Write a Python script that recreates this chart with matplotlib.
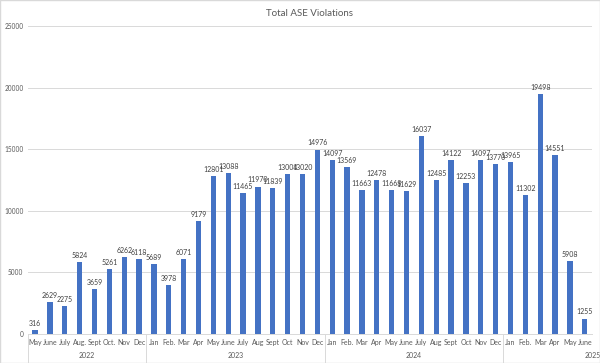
import matplotlib
matplotlib.use("Agg")
import matplotlib.pyplot as plt

months = ["May", "June", "July", "Aug.", "Sept", "Oct.", "Nov", "Dec",
          "Jan", "Feb.", "Mar", "Apr", "May", "June", "July", "Aug", "Sept", "Oct", "Nov", "Dec",
          "Jan", "Feb.", "Mar", "Apr", "May", "June", "July", "Aug", "Sept", "Oct", "Nov", "Dec",
          "Jan", "Feb.", "Mar", "Apr", "May", "June"]
violations = [316, 2629, 2275, 5824, 3659, 5261, 6262, 6118,
              5689, 3978, 6071, 9179, 12801, 13088, 11465, 11970, 11839, 13004, 13020, 14976,
              14097, 13569, 11663, 12478, 11668, 11629, 16037, 12485, 14122, 12253, 14097, 13770,
              13965, 11302, 19498, 14551, 5908, 1255]
years = ["2022", "2023", "2024", "2025"]
year_counts = [8, 12, 12, 6]

plt.rcParams['font.family'] = ['Lato', 'DejaVu Sans']
bar_color = "#4472C4"
text_color = "#595959"
grid_color = "#D9D9D9"

fig = plt.figure(figsize=(6, 3.63), dpi=100)
ax = fig.add_axes([0.046, 0.080, 0.941, 0.848])

x = list(range(len(violations)))
ax.bar(x, violations, width=0.36, color=bar_color, zorder=3)
for xi, v in zip(x, violations):
    ax.text(xi, v + 250, str(v), ha='center', va='bottom', fontsize=5, color="#404040")

ax.set_xlim(-0.5, len(violations) - 0.5)
ax.set_ylim(0, 25000)
ax.set_yticks(range(0, 25001, 5000))
ax.tick_params(axis='y', length=0, labelsize=4.7, labelcolor=text_color, pad=3)
ax.grid(axis='y', color=grid_color, linewidth=0.7, zorder=0)
for s in ['top', 'right', 'left']:
    ax.spines[s].set_visible(False)
ax.spines['bottom'].set_color(grid_color)
ax.spines['bottom'].set_linewidth(0.7)

ax.set_xticks(x)
ax.set_xticklabels(months)
ax.tick_params(axis='x', length=0, labelsize=5, labelcolor=text_color, pad=3.5)

# year group separators and labels
trans = ax.get_xaxis_transform()
start = 0
for yr, n in zip(years, year_counts):
    ax.plot([start - 0.5, start - 0.5], [0, -0.095], transform=trans, color=grid_color,
            linewidth=0.7, clip_on=False)
    center = start + (n - 1) / 2 if yr != "2025" else start + n - 0.45
    ax.text(center, -0.07, yr, transform=trans, ha='center', va='center',
            fontsize=5, color=text_color)
    start += n

ax.set_title("Total ASE Violations", fontsize=7, color=text_color, pad=7)

fig.patches.append(plt.Rectangle((0, 0), 1, 1, transform=fig.transFigure, fill=False,
                                 edgecolor=grid_color, linewidth=1))
fig.savefig("out.png", dpi=100)
